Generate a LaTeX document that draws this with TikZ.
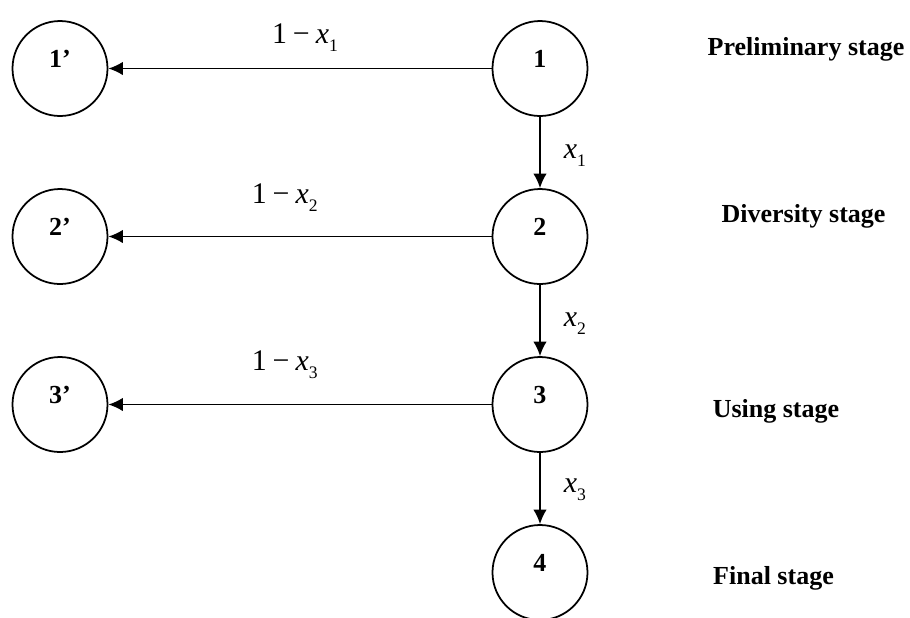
\documentclass[tikz,border=0pt]{standalone}
\usepackage{fontspec}
\setmainfont{Liberation Serif}
\usetikzlibrary{arrows.meta,positioning}
\newcommand{\xv}[1]{\textit{x}\raisebox{-0.6ex}{\fontsize{10}{10}\selectfont #1}}
\begin{document}
\begin{tikzpicture}[node distance=3.36cm, >={Latex[length=2.9mm,width=2.7mm]}, line width=1pt, font=\fontsize{14.8}{17}\selectfont]
        % Stili
        \tikzstyle{state} = [draw, circle, minimum size=1.9cm, inner sep=0pt, font=\fontsize{14.8}{17}\selectfont\bfseries, text height=0.35cm, text depth=0.4cm]
        \tikzstyle{stage} = [font=\fontsize{14.8}{17}\selectfont\bfseries, text height=0.36cm, text depth=0.11cm, inner sep=0pt]
        \tikzstyle{prob} = [inner sep=0pt, font=\fontsize{17}{19}\selectfont]

        \useasboundingbox (0,0) rectangle (18.2,-12.34);

        % --- Catena principale ---
        \node [state] (s1) at (10.8,-1.37) {1};
        \node [state, below of=s1] (s2) {2};
        \node [state, below of=s2] (s3) {3};
        \node [state, below of=s3] (s4) {4};

        % --- Stati di uscita ---
        \node [state, left of=s1, node distance=9.6cm] (e1) {1'};
        \node [state, left of=s2, node distance=9.6cm] (e2) {2'};
        \node [state, left of=s3, node distance=9.6cm] (e3) {3'};

        % --- Fasi ---
        \node [stage, right of=s1, node distance=5.32cm, yshift=0.395cm] (f1) {Preliminary stage};
        \node [stage, right of=s2, node distance=5.27cm, yshift=0.405cm] (f2) {Diversity stage};
        \node [stage, right of=s3, node distance=4.72cm, yshift=-0.135cm] (f3) {Using stage};
        \node [stage, right of=s4, node distance=4.67cm, yshift=-0.115cm] (f4) {Final stage};

        % --- Collegamenti ---
        % Uscite verso sinistra
        \draw [->] (s1) -- node[prob, pos=0.487, anchor=base, yshift=0.51cm] {1\hspace{0.2em}−\hspace{0.2em}\xv{1}} (e1);
        \draw [->] (s2) -- node[prob, pos=0.54, anchor=base, yshift=0.67cm] {1\hspace{0.2em}−\hspace{0.2em}\xv{2}} (e2);
        \draw [->] (s3) -- node[prob, pos=0.54, anchor=base, yshift=0.69cm] {1\hspace{0.2em}−\hspace{0.2em}\xv{3}} (e3);

        % Passaggi verso il basso
        \draw [->] (s1) -- node[prob, anchor=base west, xshift=0.46cm, yshift=-0.12cm] {\xv{1}} (s2);
        \draw [->] (s2) -- node[prob, anchor=base west, xshift=0.46cm, yshift=-0.12cm] {\xv{2}} (s3);
        \draw [->] (s3) -- node[prob, anchor=base west, xshift=0.46cm, yshift=-0.08cm] {\xv{3}} (s4);

    \end{tikzpicture}
\end{document}
